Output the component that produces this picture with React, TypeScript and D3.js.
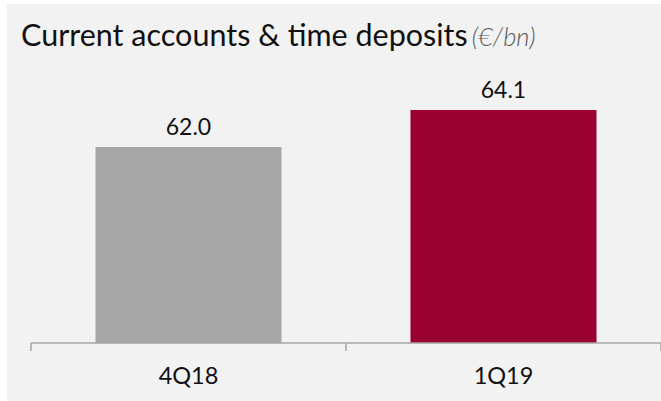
import React from "react";
import * as d3 from "d3";

const categories = ["4Q18", "1Q19"];
const values = [62.0, 64.1];
const barColors = ["#a6a6a6", "#990030"];
const valueLabels = ["62.0", "64.1"];

const W = 661;
const H = 401;

export default function App() {
  const x = d3.scaleBand<string>().domain(categories).range([31, 661]).paddingInner(0.4095).paddingOuter(0.20475);
  const y = d3.scaleLinear().domain([50.876, 65]).range([343, 94.15]);
  const ticks = [31, ...categories.map((c) => (x(c) as number) + x.bandwidth() + (x.step() - x.bandwidth()) / 2)];
  return (
    <div style={{ position: "fixed", left: 0, top: 0, width: W, height: H }}>
      <svg width={W} height={H} style={{ display: "block" }} fontFamily="Lato">
        <rect x={0} y={0} width={W} height={H} fill="#ffffff" />
        <rect x={7} y={4} width={W - 7} height={H - 4} fill="#f2f2f2" />
        <text x={21} y={45.5} fontSize={30.5} fill="#111">
          Current accounts &amp; time deposits
          <tspan fontStyle="italic" fontWeight={300} fontSize={25.5} fill="#595959" dx={4}>(€/bn)</tspan>
        </text>
        {categories.map((c, i) => (
          <g key={c}>
            <rect x={x(c)} y={y(values[i])} width={x.bandwidth()} height={343 - y(values[i])} fill={barColors[i]} />
            <text x={(x(c) as number) + x.bandwidth() / 2} y={y(values[i]) - 12.5} textAnchor="middle" fontSize={23} fill="#111">
              {valueLabels[i]}
            </text>
            <text x={(x(c) as number) + x.bandwidth() / 2} y={383.5} textAnchor="middle" fontSize={23.5} fill="#111">
              {c}
            </text>
          </g>
        ))}
        <line x1={31} x2={661} y1={343} y2={343} stroke="#a6a6a6" strokeWidth={1.5} />
        {ticks.map((t, i) => (
          <line key={i} x1={t} x2={t} y1={343} y2={351} stroke="#a6a6a6" strokeWidth={1.5} />
        ))}
      </svg>
    </div>
  );
}
